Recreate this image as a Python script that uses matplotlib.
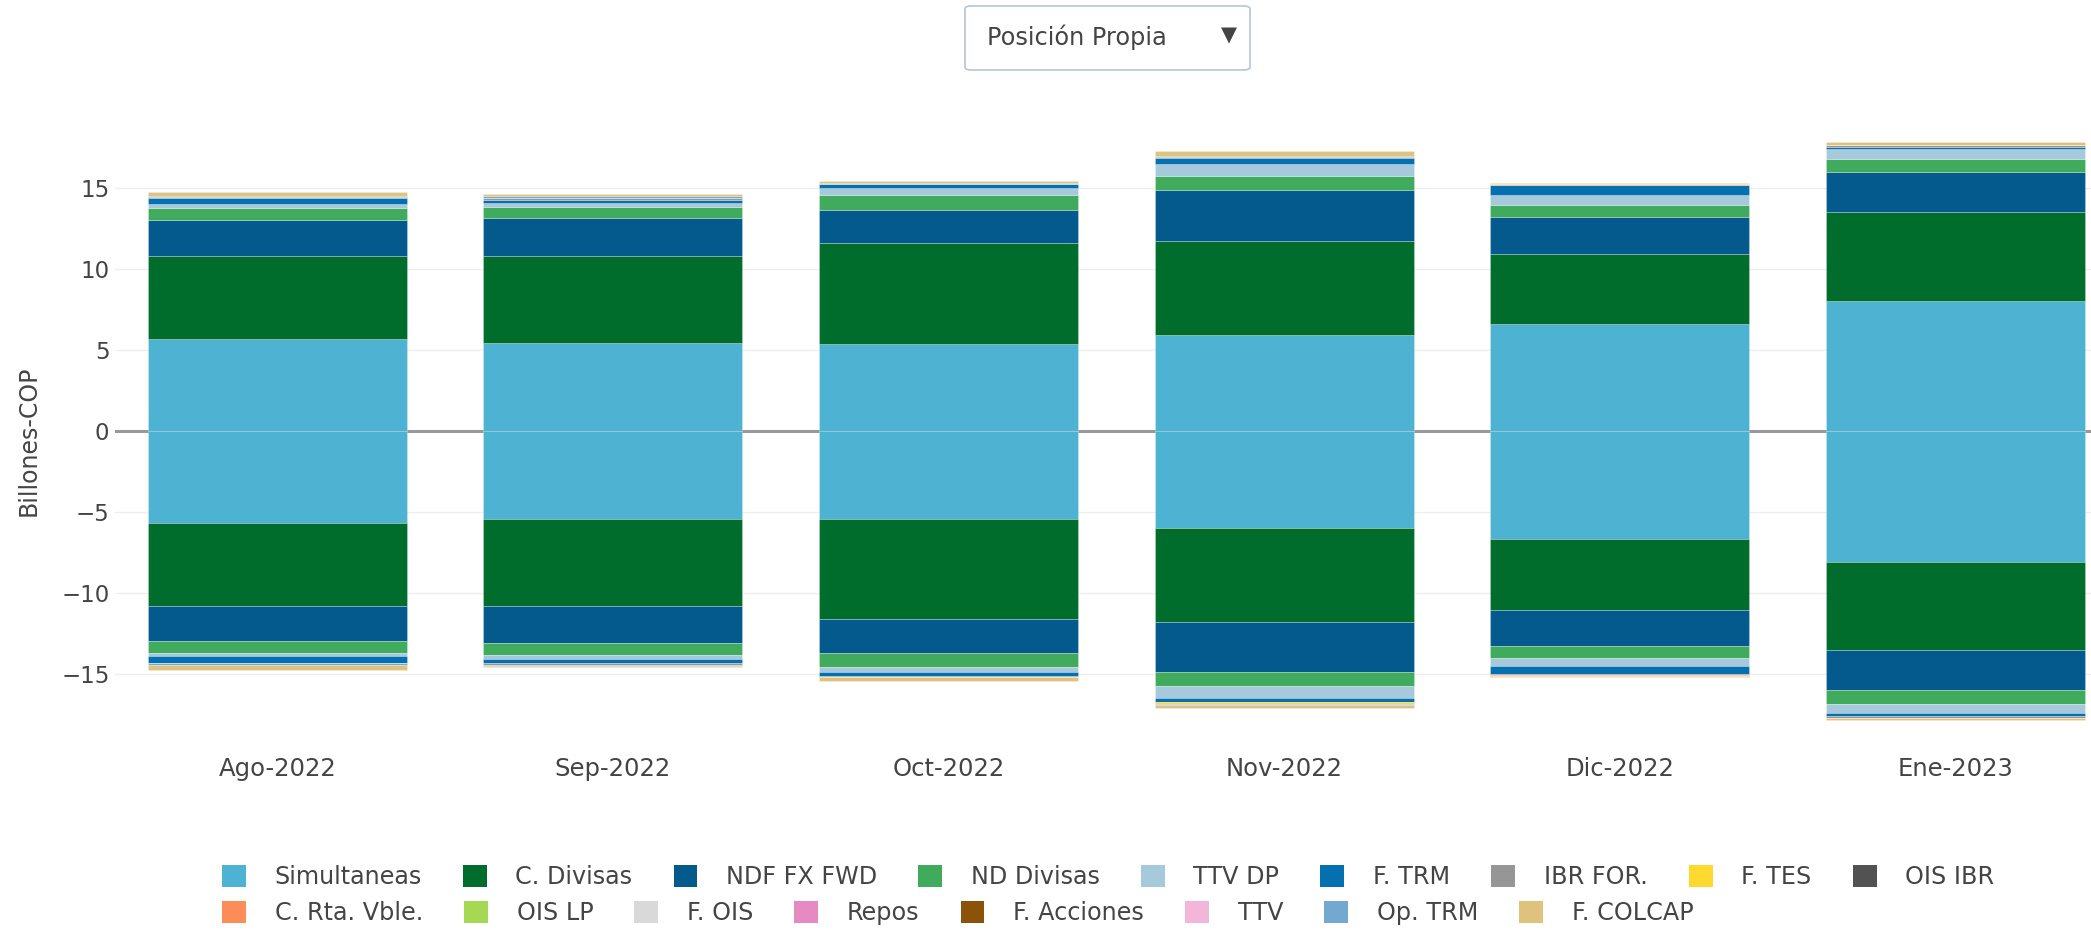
import matplotlib.pyplot as plt
import numpy as np
from matplotlib.patches import Patch, FancyBboxPatch

# meses
months = ['Ago-2022', 'Sep-2022', 'Oct-2022', 'Nov-2022', 'Dic-2022', 'Ene-2023']

# posiciones largas (positivas) y cortas (negativas), billones COP
simultaneas_pos = [5.65, 5.42, 5.34, 5.90, 6.57, 8.00]
simultaneas_neg = [-5.67, -5.42, -5.42, -5.95, -6.63, -8.07]
c_divisas_pos = [5.12, 5.34, 6.26, 5.81, 4.36, 5.50]
c_divisas_neg = [-5.14, -5.39, -6.18, -5.82, -4.37, -5.43]
ndf_pos = [2.23, 2.34, 2.02, 3.13, 2.28, 2.46]
ndf_neg = [-2.14, -2.26, -2.06, -3.08, -2.26, -2.48]
nd_divisas_pos = [0.72, 0.72, 0.90, 0.84, 0.72, 0.78]
nd_divisas_neg = [-0.72, -0.73, -0.87, -0.85, -0.70, -0.82]
ttv_dp_pos = [0.25, 0.25, 0.47, 0.76, 0.60, 0.62]
ttv_dp_neg = [-0.20, -0.27, -0.33, -0.75, -0.54, -0.57]
f_trm_pos = [0.40, 0.18, 0.22, 0.40, 0.60, 0.15]
f_trm_neg = [-0.42, -0.20, -0.25, -0.25, -0.49, -0.21]
ibr_for_pos = [0.03, 0.12, 0.02, 0.02, 0.03, 0.08]
ibr_for_neg = [-0.03, -0.13, -0.02, -0.02, -0.06, -0.10]
f_tes_pos = [0.0, 0.0, 0.0, 0.0, 0.0, 0.0]
f_tes_neg = [0.0, 0.0, 0.0, -0.08, 0.0, 0.0]
ois_ibr_pos = [0.0, 0.0, 0.0, 0.0, 0.0, 0.0]
ois_ibr_neg = [0.0, 0.0, 0.0, 0.0, 0.0, 0.0]
c_rta_vble_pos = [0.0, 0.0, 0.0, 0.0, 0.05, 0.0]
c_rta_vble_neg = [0.0, 0.0, 0.0, 0.0, -0.03, 0.0]
ois_lp_pos = [0.0, 0.0, 0.0, 0.0, 0.0, 0.0]
ois_lp_neg = [0.0, 0.0, 0.0, 0.0, 0.0, 0.0]
f_ois_pos = [0.0, 0.0, 0.0, 0.0, 0.0, 0.0]
f_ois_neg = [0.0, 0.0, 0.0, 0.0, 0.0, 0.0]
repos_pos = [0.0, 0.0, 0.0, 0.0, 0.0, 0.0]
repos_neg = [0.0, 0.0, 0.0, 0.0, 0.0, 0.0]
f_acciones_pos = [0.0, 0.0, 0.0, 0.0, 0.0, 0.0]
f_acciones_neg = [0.0, 0.0, 0.0, 0.0, 0.0, 0.0]
ttv_pos = [0.0, 0.0, 0.0, 0.0, 0.0, 0.0]
ttv_neg = [0.0, 0.0, 0.0, 0.0, 0.0, 0.0]
op_trm_pos = [0.08, 0.10, 0.06, 0.10, 0.0, 0.05]
op_trm_neg = [-0.10, -0.05, -0.05, -0.05, 0.0, -0.03]
f_colcap_pos = [0.25, 0.13, 0.14, 0.27, 0.04, 0.18]
f_colcap_neg = [-0.28, -0.12, -0.25, -0.20, -0.10, -0.07]

series = [
    ('Simultaneas', simultaneas_pos, simultaneas_neg, '#4eb3d3'),
    ('C. Divisas', c_divisas_pos, c_divisas_neg, '#006d2c'),
    ('NDF FX FWD', ndf_pos, ndf_neg, '#045a8d'),
    ('ND Divisas', nd_divisas_pos, nd_divisas_neg, '#41ab5d'),
    ('TTV DP', ttv_dp_pos, ttv_dp_neg, '#a6cadb'),
    ('F. TRM', f_trm_pos, f_trm_neg, '#0570b0'),
    ('IBR FOR.', ibr_for_pos, ibr_for_neg, '#969696'),
    ('F. TES', f_tes_pos, f_tes_neg, '#ffd92f'),
    ('OIS IBR', ois_ibr_pos, ois_ibr_neg, '#525252'),
    ('C. Rta. Vble.', c_rta_vble_pos, c_rta_vble_neg, '#fc8d59'),
    ('OIS LP', ois_lp_pos, ois_lp_neg, '#a6d854'),
    ('F. OIS', f_ois_pos, f_ois_neg, '#d9d9d9'),
    ('Repos', repos_pos, repos_neg, '#e78ac3'),
    ('F. Acciones', f_acciones_pos, f_acciones_neg, '#8c510a'),
    ('TTV', ttv_pos, ttv_neg, '#f1b6da'),
    ('Op. TRM', op_trm_pos, op_trm_neg, '#74a9cf'),
    ('F. COLCAP', f_colcap_pos, f_colcap_neg, '#dfc27d'),
]

W, H = 2091, 931
fig = plt.figure(figsize=(W / 100, H / 100), dpi=100)
ax = fig.add_axes([115 / W, 1 - 739.4 / H, 1 - 115 / W, (739.4 - 122.6) / H])

x = np.arange(len(months))
up = np.zeros(len(months))
down = np.zeros(len(months))
edge = (1, 1, 1, 0.35)
for name, pos, neg, color in series:
    pos = np.array(pos)
    neg = np.array(neg)
    ax.bar(x, pos, bottom=up, width=0.772, color=color, edgecolor=edge, linewidth=0.5, zorder=2)
    ax.bar(x, neg, bottom=down, width=0.772, color=color, edgecolor=edge, linewidth=0.5, zorder=2)
    up += pos
    down += neg

ax.axhline(0, color='#999999', linewidth=2.2, zorder=1.5)
ax.set_xlim(-0.484, 5.405)
ax.set_ylim(-19, 19)
ax.set_yticks([-15, -10, -5, 0, 5, 10, 15])
ax.set_yticklabels(['\u221215', '\u221210', '\u22125', '0', '5', '10', '15'])
ax.set_xticks(x)
ax.set_xticklabels(months)
ax.tick_params(axis='both', length=0, labelsize=16.5, labelcolor='#444444')
ax.tick_params(axis='x', pad=13, labelsize=17.5)
ax.tick_params(axis='y', pad=4)
ax.grid(axis='y', color='#eeeeee', linewidth=1)
ax.set_axisbelow(True)
for s in ax.spines.values():
    s.set_visible(False)

fig.text(29 / W, 1 - 441 / H, 'Billones-COP', rotation=90, ha='center', va='center',
         fontsize=17, color='#444444')

# leyenda en dos filas
handles = [Patch(facecolor=c, edgecolor='none') for _, _, _, c in series]
labels = [n for n, _, _, _ in series]
for rows, yy in [((0, 9), 877), ((9, 17), 913)]:
    fig.legend(handles[rows[0]:rows[1]], labels[rows[0]:rows[1]], loc='center left',
               bbox_to_anchor=(222 / W, 1 - yy / H), ncol=rows[1] - rows[0], frameon=False,
               fontsize=17.2, labelcolor='#444444', handlelength=1.0, handleheight=1.0,
               handletextpad=1.2, columnspacing=1.72, borderpad=0, borderaxespad=0)

# selector
box = FancyBboxPatch((965 / W, 1 - 70 / H), 285 / W, 64 / H,
                     boxstyle='round,pad=0,rounding_size=0.003', transform=fig.transFigure,
                     facecolor='white', edgecolor='#bec8d9', linewidth=1.3)
fig.patches.append(box)
fig.text(987 / W, 1 - 37 / H, 'Posición Propia', ha='left', va='center', fontsize=17.3,
         color='#444444')
fig.text(1229 / W, 1 - 35 / H, '\u25bc', ha='center', va='center', fontsize=15, color='#444444')

fig.savefig('out.png', dpi=100)
